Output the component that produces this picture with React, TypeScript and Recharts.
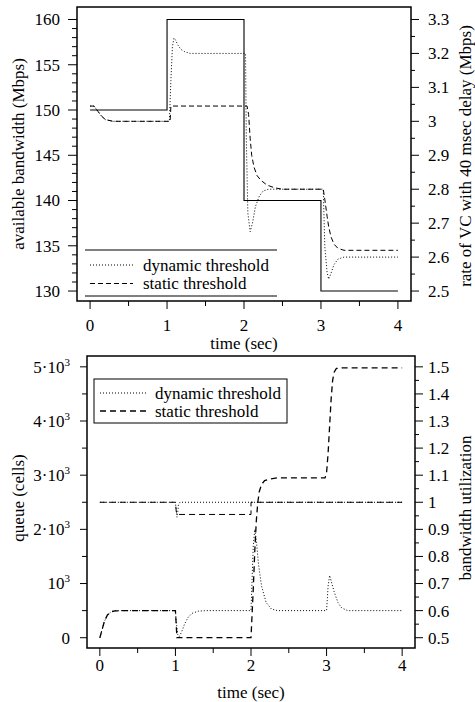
import React from 'react';
import { LineChart, Line, XAxis, YAxis, ReferenceArea, Legend } from 'recharts';

const FONT = '"Liberation Serif", "DejaVu Serif", serif';
const FS = 17;

// ---------- shared time axis ----------
const timeTicks = [0, 1, 2, 3, 4];
const timeTickLabels = ['0', '1', '2', '3', '4'];
const timeMinorTicks = [0.5, 1.5, 2.5, 3.5];

// ---------- top chart ----------
const bwTicks = [130, 135, 140, 145, 150, 155, 160];
const bwTickLabels = ['130', '135', '140', '145', '150', '155', '160'];
const bwMinorTicks = [131, 132, 133, 134, 136, 137, 138, 139, 141, 142, 143, 144, 146, 147, 148, 149, 151, 152, 153, 154, 156, 157, 158, 159];
const rateTicks = [2.5, 2.6, 2.7, 2.8, 2.9, 3.0, 3.1, 3.2, 3.3];
const rateTickLabels = ['2.5', '2.6', '2.7', '2.8', '2.9', '3', '3.1', '3.2', '3.3'];
const rateMinorTicks = [2.55, 2.65, 2.75, 2.85, 2.95, 3.05, 3.15, 3.25];

// available bandwidth (left axis, Mbps)
const bwTime = [0, 1, 1, 2, 2, 3, 3, 4];
const bwValue = [150, 150, 160, 160, 140, 140, 130, 130];

// rate, dynamic threshold (right axis)
const dynRateTime = [0, 0.05, 0.1, 0.15, 0.2, 0.3, 1.03, 1.05, 1.07, 1.09, 1.11, 1.14, 1.18, 1.23, 1.3, 2.02, 2.03, 2.05, 2.08, 2.11, 2.15, 2.2, 2.25, 2.32, 3.03, 3.05, 3.08, 3.1, 3.13, 3.17, 3.22, 3.3, 4];
const dynRateValue = [3.045, 3.045, 3.03, 3.015, 3.005, 3.0, 3.0, 3.12, 3.22, 3.245, 3.24, 3.225, 3.212, 3.205, 3.2, 3.2, 2.95, 2.73, 2.675, 2.7, 2.75, 2.78, 2.795, 2.8, 2.8, 2.63, 2.555, 2.535, 2.552, 2.578, 2.594, 2.6, 2.6];

// rate, static threshold (right axis)
const statRateTime = [0, 0.05, 0.1, 0.15, 0.2, 0.3, 1.04, 1.05, 2.04, 2.06, 2.08, 2.1, 2.13, 2.17, 2.22, 2.3, 2.4, 2.5, 3.03, 3.05, 3.08, 3.1, 3.13, 3.17, 3.22, 3.3, 4];
const statRateValue = [3.045, 3.045, 3.03, 3.015, 3.005, 3.0, 3.0, 3.045, 3.045, 3.02, 2.95, 2.9, 2.865, 2.84, 2.826, 2.812, 2.804, 2.8, 2.8, 2.77, 2.72, 2.69, 2.66, 2.638, 2.626, 2.62, 2.62];

// ---------- bottom chart ----------
const queueTicks = [0, 1000, 2000, 3000, 4000, 5000];
const queueTickBase = ['0', '10', '2·10', '3·10', '4·10', '5·10'];
const queueTickSup = ['', '3', '3', '3', '3', '3'];
const queueMinorTicks = [500, 1500, 2500, 3500, 4500];
const utilTicks = [0.5, 0.6, 0.7, 0.8, 0.9, 1.0, 1.1, 1.2, 1.3, 1.4, 1.5];
const utilTickLabels = ['0.5', '0.6', '0.7', '0.8', '0.9', '1', '1.1', '1.2', '1.3', '1.4', '1.5'];
const utilMinorTicks = [0.55, 0.65, 0.75, 0.85, 0.95, 1.05, 1.15, 1.25, 1.35, 1.45];

// queue, dynamic threshold (left axis, cells)
const dynQueueTime = [0, 0.03, 0.06, 0.1, 0.15, 0.2, 0.3, 1.0, 1.01, 1.03, 1.05, 1.08, 1.12, 1.17, 1.22, 1.3, 1.4, 2.0, 2.01, 2.03, 2.05, 2.07, 2.1, 2.14, 2.2, 2.27, 2.35, 3.0, 3.02, 3.04, 3.06, 3.1, 3.15, 3.2, 3.28, 4];
const dynQueueValue = [0, 150, 300, 420, 480, 495, 500, 500, 300, 60, 20, 100, 250, 380, 450, 490, 500, 500, 900, 1700, 2000, 1800, 1350, 950, 650, 530, 500, 500, 950, 1150, 1050, 850, 650, 550, 500, 500];

// queue, static threshold (left axis, cells)
const statQueueTime = [0, 0.03, 0.06, 0.1, 0.15, 0.2, 0.3, 1.0, 1.01, 1.02, 2.0, 2.01, 2.03, 2.05, 2.07, 2.09, 2.11, 2.14, 2.18, 2.25, 2.35, 2.98, 3.0, 3.02, 3.04, 3.06, 3.08, 3.1, 3.13, 3.2, 4];
const statQueueValue = [0, 150, 300, 420, 480, 495, 500, 500, 250, 0, 0, 300, 900, 1600, 2150, 2500, 2700, 2830, 2900, 2930, 2950, 2950, 3050, 3400, 3900, 4400, 4750, 4900, 4970, 4980, 4980];

// bandwidth utilization (right axis)
const dynUtilTime = [0, 1.0, 1.01, 1.02, 1.03, 1.04, 1.06, 4];
const dynUtilValue = [1, 1, 0.97, 0.945, 0.96, 0.99, 1, 1];
const statUtilTime = [0, 1.0, 1.01, 1.02, 2.0, 2.0, 4];
const statUtilValue = [1, 1, 0.97, 0.955, 0.955, 1, 1];

// legend
const legendLabels = ['dynamic threshold', 'static threshold'];

// ---------- axis domains ----------
const X_DOMAIN: [number, number] = [-0.17, 4.17];
const BW_DOMAIN: [number, number] = [128.9, 161.38];
const RATE_DOMAIN: [number, number] = [2.5 + (BW_DOMAIN[0] - 130) * 0.8 / 30, 2.5 + (BW_DOMAIN[1] - 130) * 0.8 / 30];
const Q_DOMAIN: [number, number] = [-190, 5200];
const UTIL_DOMAIN: [number, number] = [0.5 + Q_DOMAIN[0] / 5000, 0.5 + Q_DOMAIN[1] / 5000];

const zip = (t: number[], v: number[]) => t.map((x, i) => ({ x, y: v[i] }));

const bwData = zip(bwTime, bwValue);
const dynRateData = zip(dynRateTime, dynRateValue);
const statRateData = zip(statRateTime, statRateValue);
const dynQueueData = zip(dynQueueTime, dynQueueValue);
const statQueueData = zip(statQueueTime, statQueueValue);
const dynUtilData = zip(dynUtilTime, dynUtilValue);
const statUtilData = zip(statUtilTime, statUtilValue);

const idx = (arr: number[], v: number) => arr.findIndex((m) => Math.abs(m - v) < 1e-6);

const textStyle = { fontFamily: FONT, fontSize: FS, fill: '#000' } as const;

function makeXTick(labelDy: number) {
  return (props: any) => {
    const { x, y, payload } = props;
    const i = idx(timeTicks, payload.value);
    const major = i >= 0;
    return (
      <g>
        <line x1={x} x2={x} y1={y} y2={y + (major ? 8 : 5)} stroke="#000" strokeWidth={1} />
        {major && (
          <text x={x} y={y + labelDy} dy="0.35em" textAnchor="middle" style={textStyle}>
            {timeTickLabels[i]}
          </text>
        )}
      </g>
    );
  };
}

function makeYTick(side: 'left' | 'right', majors: number[], render: (i: number) => React.ReactNode, gap: number, majorLen: number, minorLen: number) {
  return (props: any) => {
    const { x, y, payload } = props;
    const i = idx(majors, payload.value);
    const major = i >= 0;
    const s = side === 'left' ? -1 : 1;
    const len = major ? majorLen : minorLen;
    return (
      <g>
        <line x1={x} x2={x + s * len} y1={y} y2={y} stroke="#000" strokeWidth={1} />
        {major && (
          <text x={x + s * gap} y={y} dy="0.35em" textAnchor={side === 'left' ? 'end' : 'start'} style={textStyle}>
            {render(i)}
          </text>
        )}
      </g>
    );
  };
}

const bwTick = makeYTick('left', bwTicks, (i) => bwTickLabels[i], 17, 9, 5);
const rateTick = makeYTick('right', rateTicks, (i) => rateTickLabels[i], 17, 8, 4);
const queueTick = makeYTick('left', queueTicks, (i) => (
  <>
    <tspan>{queueTickBase[i]}</tspan>
    {queueTickSup[i] && <tspan dy="-7" fontSize={11}>{queueTickSup[i]}</tspan>}
  </>
), 17, 7, 5);
const utilTick = makeYTick('right', utilTicks, (i) => utilTickLabels[i], 13, 8, 4);

const vTitle = (text: string, x: number, y: number) => () => (
  <text x={x} y={y} transform={`rotate(-90 ${x} ${y})`} dy="0.35em" textAnchor="middle" style={textStyle}>
    {text}
  </text>
);
const hTitle = (text: string, x: number, y: number) => () => (
  <text x={x} y={y} dy="0.35em" textAnchor="middle" style={textStyle}>
    {text}
  </text>
);

const TopLegend = () => (
  <svg width={475} height={352} style={{ position: 'absolute', left: 0, top: 0 }}>
    <line x1={85} x2={277} y1={250} y2={250} stroke="#000" strokeWidth={1} />
    <line x1={85} x2={277} y1={296} y2={296} stroke="#000" strokeWidth={1} />
    <line x1={90} x2={133} y1={265} y2={265} stroke="#000" strokeWidth={1} strokeDasharray="1 2" />
    <text x={143} y={265} dy="0.35em" style={textStyle}>{legendLabels[0]}</text>
    <line x1={90} x2={133} y1={283.5} y2={283.5} stroke="#000" strokeWidth={1} strokeDasharray="5 3" />
    <text x={143} y={283.5} dy="0.35em" style={textStyle}>{legendLabels[1]}</text>
  </svg>
);

const BottomLegend = () => (
  <svg width={475} height={350} style={{ position: 'absolute', left: 0, top: 0 }}>
    <rect x={94} y={27} width={193} height={44} fill="#fff" stroke="#000" strokeWidth={1} />
    <line x1={100} x2={147} y1={41} y2={41} stroke="#000" strokeWidth={1} strokeDasharray="1 2" />
    <text x={155} y={41} dy="0.35em" style={textStyle}>{legendLabels[0]}</text>
    <line x1={100} x2={147} y1={59} y2={59} stroke="#000" strokeWidth={1.5} strokeDasharray="6 4" />
    <text x={155} y={59} dy="0.35em" style={textStyle}>{legendLabels[1]}</text>
  </svg>
);

const legendWrap = (h: number) => ({ position: 'absolute' as const, left: 0, top: 0, width: 475, height: h, pointerEvents: 'none' as const });

export default function App() {
  return (
    <div style={{ position: 'absolute', left: 0, top: 0, width: 475, height: 702, background: '#fff' }}>
      <div style={{ position: 'absolute', left: 0, top: 0 }}>
        <LineChart width={475} height={352} margin={{ top: 7, right: 0, bottom: 0, left: 0 }}>
          <XAxis dataKey="x" type="number" domain={X_DOMAIN} allowDataOverflow ticks={[...timeTicks, ...timeMinorTicks]}
            interval={0} tick={makeXTick(24)} tickLine={false} axisLine={false} tickSize={0} tickMargin={0} height={51}
            label={{ content: hTitle('time (sec)', 244, 343) }} />
          <YAxis yAxisId="L" orientation="left" type="number" domain={BW_DOMAIN} allowDataOverflow width={77}
            ticks={[...bwTicks, ...bwMinorTicks]} interval={0} tick={bwTick} tickLine={false} axisLine={false} tickSize={0} tickMargin={0}
            label={{ content: vTitle('available bandwidth (Mbps)', 18, 154) }} />
          <YAxis yAxisId="R" orientation="right" type="number" domain={RATE_DOMAIN} allowDataOverflow width={64}
            ticks={[...rateTicks, ...rateMinorTicks]} interval={0} tick={rateTick} tickLine={false} axisLine={false} tickSize={0} tickMargin={0}
            label={{ content: vTitle('rate of VC with 40 msec delay (Mbps)', 465, 156) }} />
          <ReferenceArea yAxisId="L" x1={X_DOMAIN[0]} x2={X_DOMAIN[1]} y1={BW_DOMAIN[0]} y2={BW_DOMAIN[1]} fill="none" stroke="#000" strokeWidth={1.5} ifOverflow="visible" />
          <Line yAxisId="L" data={bwData} dataKey="y" type="linear" stroke="#000" strokeWidth={1.1} dot={false} isAnimationActive={false} legendType="none" />
          <Line yAxisId="R" data={dynRateData} dataKey="y" type="linear" stroke="#000" strokeWidth={1} strokeDasharray="1 2" dot={false} isAnimationActive={false} />
          <Line yAxisId="R" data={statRateData} dataKey="y" type="linear" stroke="#000" strokeWidth={1} strokeDasharray="5 3" dot={false} isAnimationActive={false} />
          <Legend layout="horizontal" verticalAlign="middle" align="center" wrapperStyle={legendWrap(352)} content={() => <TopLegend />} />
        </LineChart>
      </div>
      <div style={{ position: 'absolute', left: 0, top: 352 }}>
        <LineChart width={475} height={350} margin={{ top: 4, right: 0, bottom: 0, left: 0 }}>
          <XAxis dataKey="x" type="number" domain={X_DOMAIN} allowDataOverflow ticks={[...timeTicks, ...timeMinorTicks]}
            interval={0} tick={makeXTick(17)} tickLine={false} axisLine={false} tickSize={0} tickMargin={0} height={54}
            label={{ content: hTitle('time (sec)', 251, 340) }} />
          <YAxis yAxisId="L" orientation="left" type="number" domain={Q_DOMAIN} allowDataOverflow width={87}
            ticks={[...queueTicks, ...queueMinorTicks]} interval={0} tick={queueTick} tickLine={false} axisLine={false} tickSize={0} tickMargin={0}
            label={{ content: vTitle('queue (cells)', 18, 146) }} />
          <YAxis yAxisId="R" orientation="right" type="number" domain={UTIL_DOMAIN} allowDataOverflow width={60}
            ticks={[...utilTicks, ...utilMinorTicks]} interval={0} tick={utilTick} tickLine={false} axisLine={false} tickSize={0} tickMargin={0}
            label={{ content: vTitle('bandwidth utilization', 465, 156) }} />
          <ReferenceArea yAxisId="L" x1={X_DOMAIN[0]} x2={X_DOMAIN[1]} y1={Q_DOMAIN[0]} y2={Q_DOMAIN[1]} fill="none" stroke="#000" strokeWidth={1.5} ifOverflow="visible" />
          <Line yAxisId="R" data={dynUtilData} dataKey="y" type="linear" stroke="#000" strokeWidth={1} strokeDasharray="1 2" dot={false} isAnimationActive={false} />
          <Line yAxisId="R" data={statUtilData} dataKey="y" type="linear" stroke="#000" strokeWidth={1} strokeDasharray="6 4" dot={false} isAnimationActive={false} />
          <Line yAxisId="L" data={dynQueueData} dataKey="y" type="linear" stroke="#000" strokeWidth={1} strokeDasharray="1 2" dot={false} isAnimationActive={false} />
          <Line yAxisId="L" data={statQueueData} dataKey="y" type="linear" stroke="#000" strokeWidth={1.3} strokeDasharray="6 4" dot={false} isAnimationActive={false} />
          <Legend layout="horizontal" verticalAlign="middle" align="center" wrapperStyle={legendWrap(350)} content={() => <BottomLegend />} />
        </LineChart>
      </div>
    </div>
  );
}
